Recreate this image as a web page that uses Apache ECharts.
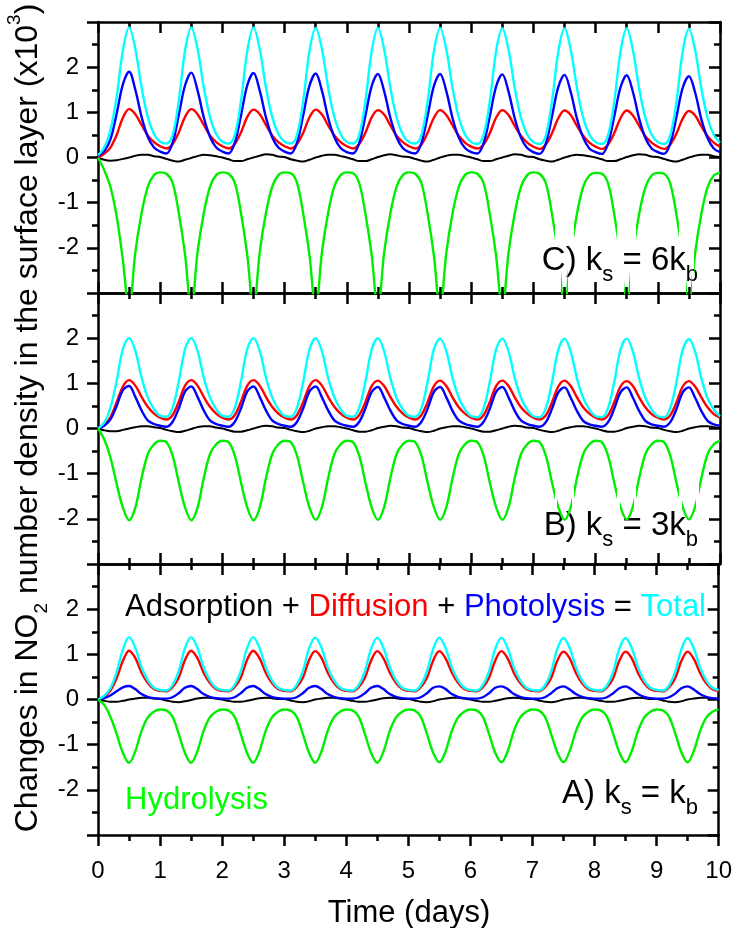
<!DOCTYPE html>
<html>
<head>
<meta charset="utf-8">
<script src="https://cdn.jsdelivr.net/npm/echarts@6.0.0/dist/echarts.min.js"></script>
<style>
  html, body { margin: 0; padding: 0; background: #fff; }
  #main { width: 735px; height: 928px; }
</style>
</head>
<body>
<div id="main"></div>
<script>
// time axis, days
var time = [
  0, 0.1, 0.2, 0.3, 0.4, 0.5, 0.6, 0.7, 0.8, 0.9,
  1, 1.1, 1.2, 1.3, 1.4, 1.5, 1.6, 1.7, 1.8, 1.9,
  2, 2.1, 2.2, 2.3, 2.4, 2.5, 2.6, 2.7, 2.8, 2.9,
  3, 3.1, 3.2, 3.3, 3.4, 3.5, 3.6, 3.7, 3.8, 3.9,
  4, 4.1, 4.2, 4.3, 4.4, 4.5, 4.6, 4.7, 4.8, 4.9,
  5, 5.1, 5.2, 5.3, 5.4, 5.5, 5.6, 5.7, 5.8, 5.9,
  6, 6.1, 6.2, 6.3, 6.4, 6.5, 6.6, 6.7, 6.8, 6.9,
  7, 7.1, 7.2, 7.3, 7.4, 7.5, 7.6, 7.7, 7.8, 7.9,
  8, 8.1, 8.2, 8.3, 8.4, 8.5, 8.6, 8.7, 8.8, 8.9,
  9, 9.1, 9.2, 9.3, 9.4, 9.5, 9.6, 9.7, 9.8, 9.9,
  10
];

// ---- C) ks = 6kb
var adsorptionC = [
  0, -0.05, -0.07, -0.06, -0.03, 0, 0.04, 0.06, 0.06, 0.03,
  0.01, -0.03, -0.07, -0.09, -0.05, -0.01, 0.03, 0.06, 0.05, 0.03,
  0, -0.04, -0.08, -0.08, -0.04, 0, 0.04, 0.07, 0.06, 0.02,
  0.01, -0.04, -0.07, -0.09, -0.05, 0, 0.04, 0.06, 0.06, 0.03,
  0, -0.04, -0.08, -0.08, -0.04, 0.01, 0.05, 0.07, 0.05, 0.02,
  0.01, -0.03, -0.07, -0.09, -0.05, 0, 0.04, 0.06, 0.06, 0.03,
  0, -0.04, -0.08, -0.08, -0.04, 0, 0.04, 0.07, 0.06, 0.02,
  0.01, -0.04, -0.07, -0.09, -0.05, 0, 0.04, 0.06, 0.05, 0.03,
  0, -0.04, -0.08, -0.08, -0.04, 0.01, 0.05, 0.07, 0.06, 0.02,
  0.01, -0.03, -0.07, -0.09, -0.05, 0, 0.04, 0.06, 0.06, 0.03,
  0.01
];
var diffusionC = [
  0, 0.08, 0.22, 0.5, 0.88, 1.07, 0.96, 0.72, 0.49, 0.34,
  0.25, 0.2, 0.3, 0.56, 0.9, 1.07, 0.96, 0.72, 0.49, 0.34,
  0.25, 0.2, 0.3, 0.56, 0.9, 1.06, 0.96, 0.72, 0.49, 0.34,
  0.25, 0.2, 0.3, 0.55, 0.89, 1.06, 0.95, 0.71, 0.49, 0.34,
  0.25, 0.2, 0.3, 0.55, 0.89, 1.05, 0.95, 0.71, 0.48, 0.34,
  0.25, 0.2, 0.29, 0.55, 0.88, 1.05, 0.94, 0.71, 0.48, 0.33,
  0.24, 0.2, 0.29, 0.54, 0.88, 1.05, 0.94, 0.7, 0.48, 0.33,
  0.24, 0.19, 0.29, 0.54, 0.87, 1.04, 0.94, 0.7, 0.48, 0.33,
  0.24, 0.19, 0.29, 0.54, 0.87, 1.04, 0.93, 0.7, 0.47, 0.33,
  0.24, 0.19, 0.29, 0.53, 0.86, 1.03, 0.93, 0.69, 0.47, 0.33,
  0.24
];
var photolysisC = [
  0.04, 0.14, 0.4, 0.97, 1.62, 1.9, 1.5, 0.9, 0.46, 0.22,
  0.13, 0.09, 0.33, 0.95, 1.6, 1.88, 1.49, 0.89, 0.46, 0.22,
  0.13, 0.09, 0.33, 0.94, 1.6, 1.87, 1.48, 0.89, 0.45, 0.22,
  0.13, 0.09, 0.33, 0.94, 1.59, 1.86, 1.48, 0.88, 0.45, 0.21,
  0.12, 0.09, 0.32, 0.93, 1.58, 1.85, 1.47, 0.88, 0.45, 0.21,
  0.12, 0.09, 0.32, 0.93, 1.58, 1.85, 1.47, 0.87, 0.44, 0.21,
  0.12, 0.09, 0.32, 0.92, 1.57, 1.84, 1.46, 0.87, 0.44, 0.21,
  0.12, 0.08, 0.31, 0.92, 1.56, 1.83, 1.45, 0.86, 0.44, 0.2,
  0.12, 0.08, 0.31, 0.91, 1.55, 1.82, 1.45, 0.86, 0.43, 0.2,
  0.12, 0.08, 0.31, 0.9, 1.54, 1.8, 1.44, 0.85, 0.43, 0.2,
  0.12
];
var totalC = [
  0.05, 0.22, 0.6, 1.34, 2.37, 2.88, 2.41, 1.56, 0.9, 0.52,
  0.35, 0.31, 0.5, 1.27, 2.37, 2.88, 2.41, 1.56, 0.9, 0.52,
  0.35, 0.31, 0.5, 1.26, 2.36, 2.88, 2.4, 1.55, 0.9, 0.52,
  0.35, 0.31, 0.5, 1.26, 2.36, 2.87, 2.4, 1.55, 0.89, 0.52,
  0.34, 0.31, 0.5, 1.26, 2.35, 2.87, 2.4, 1.55, 0.89, 0.51,
  0.34, 0.31, 0.5, 1.25, 2.35, 2.87, 2.39, 1.54, 0.89, 0.51,
  0.34, 0.3, 0.5, 1.25, 2.35, 2.86, 2.39, 1.54, 0.88, 0.51,
  0.34, 0.3, 0.49, 1.25, 2.34, 2.86, 2.39, 1.54, 0.88, 0.51,
  0.34, 0.3, 0.49, 1.24, 2.34, 2.86, 2.38, 1.53, 0.88, 0.51,
  0.34, 0.3, 0.49, 1.24, 2.34, 2.85, 2.38, 1.53, 0.88, 0.5,
  0.33
];
var hydrolysisC = [
  0, -0.28, -0.65, -1.3, -2.27, -3.4, -2.1, -1.24, -0.65, -0.39,
  -0.33, -0.36, -0.56, -1.24, -2.15, -3.4, -2.1, -1.24, -0.65, -0.39,
  -0.33, -0.36, -0.56, -1.24, -2.16, -3.4, -2.1, -1.23, -0.65, -0.39,
  -0.33, -0.35, -0.56, -1.25, -2.16, -3.4, -2.1, -1.23, -0.64, -0.39,
  -0.33, -0.35, -0.57, -1.25, -2.16, -3.4, -2.11, -1.24, -0.65, -0.39,
  -0.33, -0.36, -0.57, -1.25, -2.17, -3.4, -2.11, -1.24, -0.65, -0.39,
  -0.33, -0.36, -0.57, -1.26, -2.17, -3.4, -2.11, -1.24, -0.65, -0.39,
  -0.33, -0.36, -0.57, -1.26, -2.17, -3.4, -2.12, -1.25, -0.65, -0.4,
  -0.34, -0.36, -0.57, -1.26, -2.18, -3.4, -2.12, -1.25, -0.66, -0.4,
  -0.34, -0.36, -0.58, -1.27, -2.18, -3.4, -2.12, -1.25, -0.66, -0.4,
  -0.34
];
// breaks in the hydrolysis trace (days)
var hydrolysisGapsC = [[7.345, 7.45], [7.55, 7.655], [8.345, 8.45], [8.55, 8.655], [9.345, 9.45], [9.55, 9.59]];

// ---- B) ks = 3kb
var adsorptionB = [
  0, -0.04, -0.06, -0.06, -0.03, 0, 0.03, 0.05, 0.05, 0.03,
  0.01, -0.03, -0.06, -0.08, -0.05, -0.01, 0.03, 0.05, 0.05, 0.02,
  0, -0.04, -0.07, -0.07, -0.04, 0, 0.04, 0.06, 0.05, 0.02,
  0.01, -0.03, -0.06, -0.08, -0.05, 0, 0.03, 0.05, 0.05, 0.03,
  0, -0.04, -0.07, -0.07, -0.04, 0.01, 0.04, 0.06, 0.05, 0.02,
  0.01, -0.03, -0.06, -0.08, -0.05, 0, 0.03, 0.05, 0.05, 0.03,
  0, -0.04, -0.07, -0.07, -0.04, 0, 0.04, 0.06, 0.05, 0.02,
  0.01, -0.03, -0.06, -0.08, -0.05, 0, 0.03, 0.05, 0.05, 0.03,
  0, -0.04, -0.07, -0.07, -0.04, 0.01, 0.04, 0.06, 0.05, 0.02,
  0.01, -0.03, -0.06, -0.08, -0.05, 0, 0.03, 0.05, 0.05, 0.03,
  0.01
];
var diffusionB = [
  0, 0.08, 0.25, 0.58, 0.93, 1.07, 0.95, 0.7, 0.48, 0.33,
  0.24, 0.2, 0.3, 0.6, 0.95, 1.07, 0.95, 0.7, 0.48, 0.33,
  0.24, 0.2, 0.3, 0.6, 0.95, 1.07, 0.95, 0.7, 0.48, 0.33,
  0.24, 0.2, 0.3, 0.59, 0.94, 1.07, 0.95, 0.7, 0.48, 0.33,
  0.24, 0.2, 0.3, 0.59, 0.94, 1.06, 0.94, 0.7, 0.48, 0.33,
  0.24, 0.2, 0.3, 0.59, 0.94, 1.06, 0.94, 0.69, 0.47, 0.33,
  0.24, 0.2, 0.3, 0.59, 0.94, 1.06, 0.94, 0.69, 0.47, 0.33,
  0.24, 0.2, 0.29, 0.58, 0.93, 1.06, 0.94, 0.69, 0.47, 0.33,
  0.24, 0.2, 0.29, 0.58, 0.93, 1.05, 0.94, 0.69, 0.47, 0.32,
  0.24, 0.2, 0.29, 0.58, 0.93, 1.05, 0.93, 0.69, 0.47, 0.32,
  0.24
];
var photolysisB = [
  0, 0.06, 0.2, 0.5, 0.85, 0.94, 0.7, 0.4, 0.18, 0.1,
  0.06, 0.04, 0.15, 0.45, 0.82, 0.93, 0.7, 0.4, 0.18, 0.1,
  0.06, 0.04, 0.15, 0.45, 0.82, 0.93, 0.7, 0.4, 0.18, 0.1,
  0.06, 0.04, 0.15, 0.45, 0.82, 0.93, 0.69, 0.4, 0.18, 0.1,
  0.06, 0.04, 0.15, 0.45, 0.81, 0.92, 0.69, 0.4, 0.18, 0.1,
  0.06, 0.04, 0.15, 0.44, 0.81, 0.92, 0.69, 0.39, 0.18, 0.1,
  0.06, 0.04, 0.15, 0.44, 0.81, 0.92, 0.69, 0.39, 0.18, 0.1,
  0.06, 0.04, 0.14, 0.44, 0.8, 0.91, 0.68, 0.39, 0.17, 0.09,
  0.06, 0.04, 0.14, 0.44, 0.8, 0.91, 0.68, 0.39, 0.17, 0.09,
  0.06, 0.04, 0.14, 0.43, 0.8, 0.91, 0.68, 0.39, 0.17, 0.09,
  0.06
];
var totalB = [
  0, 0.13, 0.46, 1.05, 1.76, 2.0, 1.72, 1.13, 0.69, 0.43,
  0.28, 0.26, 0.46, 1.05, 1.76, 2.0, 1.72, 1.13, 0.69, 0.43,
  0.28, 0.26, 0.46, 1.05, 1.76, 2.0, 1.72, 1.13, 0.69, 0.43,
  0.28, 0.26, 0.46, 1.04, 1.75, 2.0, 1.71, 1.12, 0.69, 0.43,
  0.28, 0.26, 0.46, 1.04, 1.75, 2.0, 1.71, 1.12, 0.68, 0.42,
  0.28, 0.26, 0.45, 1.04, 1.75, 1.99, 1.71, 1.12, 0.68, 0.42,
  0.27, 0.25, 0.45, 1.04, 1.75, 1.99, 1.71, 1.12, 0.68, 0.42,
  0.27, 0.25, 0.45, 1.03, 1.74, 1.99, 1.7, 1.11, 0.68, 0.42,
  0.27, 0.25, 0.45, 1.03, 1.74, 1.99, 1.7, 1.11, 0.68, 0.42,
  0.27, 0.25, 0.45, 1.03, 1.74, 1.98, 1.7, 1.11, 0.67, 0.42,
  0.27
];
var hydrolysisB = [
  0, -0.24, -0.64, -1.23, -1.75, -2.03, -1.75, -1.1, -0.57, -0.35,
  -0.27, -0.3, -0.6, -1.2, -1.75, -2.03, -1.75, -1.1, -0.57, -0.35,
  -0.27, -0.3, -0.6, -1.2, -1.75, -2.03, -1.75, -1.1, -0.57, -0.35,
  -0.27, -0.3, -0.6, -1.2, -1.75, -2.02, -1.74, -1.1, -0.57, -0.35,
  -0.27, -0.3, -0.6, -1.2, -1.75, -2.02, -1.74, -1.1, -0.57, -0.35,
  -0.27, -0.3, -0.6, -1.2, -1.74, -2.02, -1.74, -1.1, -0.57, -0.35,
  -0.27, -0.3, -0.6, -1.2, -1.74, -2.02, -1.74, -1.1, -0.57, -0.35,
  -0.27, -0.3, -0.6, -1.2, -1.74, -2.02, -1.74, -1.1, -0.57, -0.35,
  -0.27, -0.3, -0.6, -1.2, -1.74, -2.01, -1.73, -1.1, -0.57, -0.35,
  -0.27, -0.3, -0.6, -1.2, -1.74, -2.01, -1.73, -1.1, -0.57, -0.35,
  -0.27
];
var hydrolysisGapsB = [[7.345, 7.385], [7.615, 7.655], [8.345, 8.385], [8.615, 8.655], [9.345, 9.385], [9.615, 9.655]];

// ---- A) ks = kb
var adsorptionA = [
  0, -0.03, -0.05, -0.05, -0.03, 0, 0.02, 0.04, 0.04, 0.02,
  0.01, -0.02, -0.05, -0.06, -0.04, -0.01, 0.02, 0.04, 0.04, 0.02,
  0, -0.03, -0.05, -0.05, -0.03, 0, 0.03, 0.04, 0.03, 0.01,
  0.01, -0.02, -0.05, -0.06, -0.04, 0, 0.02, 0.04, 0.04, 0.02,
  0, -0.03, -0.05, -0.05, -0.03, 0, 0.03, 0.04, 0.03, 0.01,
  0.01, -0.02, -0.05, -0.06, -0.04, 0, 0.02, 0.04, 0.04, 0.02,
  0, -0.03, -0.05, -0.05, -0.03, 0, 0.03, 0.04, 0.03, 0.01,
  0.01, -0.02, -0.05, -0.06, -0.04, 0, 0.02, 0.04, 0.04, 0.02,
  0, -0.03, -0.05, -0.05, -0.03, 0, 0.03, 0.04, 0.03, 0.01,
  0.01, -0.02, -0.05, -0.06, -0.04, 0, 0.02, 0.04, 0.04, 0.02,
  0.01
];
var diffusionA = [
  0, 0.06, 0.2, 0.47, 0.85, 1.08, 0.92, 0.6, 0.37, 0.23,
  0.19, 0.18, 0.27, 0.48, 0.87, 1.08, 0.92, 0.6, 0.37, 0.23,
  0.19, 0.18, 0.27, 0.48, 0.87, 1.08, 0.92, 0.6, 0.37, 0.23,
  0.19, 0.18, 0.27, 0.48, 0.87, 1.07, 0.92, 0.6, 0.37, 0.23,
  0.19, 0.18, 0.27, 0.48, 0.86, 1.07, 0.91, 0.6, 0.37, 0.23,
  0.19, 0.18, 0.27, 0.48, 0.86, 1.07, 0.91, 0.6, 0.37, 0.23,
  0.19, 0.18, 0.27, 0.48, 0.86, 1.07, 0.91, 0.59, 0.37, 0.23,
  0.19, 0.18, 0.27, 0.47, 0.86, 1.06, 0.91, 0.59, 0.36, 0.23,
  0.19, 0.18, 0.27, 0.47, 0.86, 1.06, 0.91, 0.59, 0.36, 0.23,
  0.19, 0.18, 0.27, 0.47, 0.85, 1.06, 0.9, 0.59, 0.36, 0.23,
  0.19
];
var photolysisA = [
  0, 0.03, 0.09, 0.18, 0.27, 0.3, 0.23, 0.12, 0.06, 0.03,
  0.02, 0.02, 0.05, 0.14, 0.26, 0.3, 0.23, 0.12, 0.06, 0.03,
  0.02, 0.02, 0.05, 0.14, 0.26, 0.3, 0.23, 0.12, 0.06, 0.03,
  0.02, 0.02, 0.05, 0.14, 0.26, 0.3, 0.23, 0.12, 0.06, 0.03,
  0.02, 0.02, 0.05, 0.14, 0.26, 0.3, 0.23, 0.12, 0.06, 0.03,
  0.02, 0.02, 0.05, 0.14, 0.26, 0.29, 0.23, 0.12, 0.06, 0.03,
  0.02, 0.02, 0.05, 0.14, 0.26, 0.29, 0.23, 0.12, 0.06, 0.03,
  0.02, 0.02, 0.05, 0.14, 0.25, 0.29, 0.22, 0.12, 0.06, 0.03,
  0.02, 0.02, 0.05, 0.14, 0.25, 0.29, 0.22, 0.12, 0.06, 0.03,
  0.02, 0.02, 0.05, 0.13, 0.25, 0.29, 0.22, 0.12, 0.06, 0.03,
  0.02
];
var totalA = [
  0, 0.08, 0.25, 0.6, 1.1, 1.38, 1.15, 0.72, 0.43, 0.26,
  0.21, 0.2, 0.32, 0.62, 1.13, 1.38, 1.15, 0.72, 0.43, 0.26,
  0.21, 0.2, 0.32, 0.62, 1.13, 1.38, 1.15, 0.72, 0.43, 0.26,
  0.21, 0.2, 0.32, 0.62, 1.13, 1.37, 1.15, 0.72, 0.43, 0.26,
  0.21, 0.2, 0.32, 0.62, 1.12, 1.37, 1.14, 0.72, 0.43, 0.26,
  0.21, 0.2, 0.32, 0.62, 1.12, 1.37, 1.14, 0.71, 0.43, 0.26,
  0.21, 0.2, 0.32, 0.62, 1.12, 1.37, 1.14, 0.71, 0.43, 0.26,
  0.21, 0.2, 0.31, 0.61, 1.12, 1.36, 1.14, 0.71, 0.42, 0.26,
  0.21, 0.2, 0.31, 0.61, 1.12, 1.36, 1.14, 0.71, 0.42, 0.26,
  0.21, 0.2, 0.31, 0.61, 1.11, 1.36, 1.13, 0.71, 0.42, 0.26,
  0.21
];
var hydrolysisA = [
  0, -0.12, -0.38, -0.76, -1.18, -1.4, -1.15, -0.7, -0.4, -0.27,
  -0.22, -0.24, -0.38, -0.76, -1.18, -1.4, -1.15, -0.7, -0.4, -0.27,
  -0.22, -0.24, -0.38, -0.76, -1.18, -1.4, -1.15, -0.7, -0.4, -0.27,
  -0.22, -0.24, -0.38, -0.76, -1.18, -1.4, -1.15, -0.7, -0.4, -0.27,
  -0.22, -0.24, -0.38, -0.76, -1.18, -1.4, -1.15, -0.7, -0.4, -0.27,
  -0.22, -0.24, -0.38, -0.76, -1.18, -1.39, -1.15, -0.7, -0.4, -0.27,
  -0.22, -0.24, -0.38, -0.76, -1.18, -1.39, -1.15, -0.7, -0.4, -0.27,
  -0.22, -0.24, -0.38, -0.76, -1.17, -1.39, -1.14, -0.7, -0.4, -0.27,
  -0.22, -0.24, -0.38, -0.76, -1.17, -1.39, -1.14, -0.7, -0.4, -0.27,
  -0.22, -0.24, -0.38, -0.75, -1.17, -1.39, -1.14, -0.7, -0.4, -0.27,
  -0.22
];

var panelLabels = ['C) k{s|s} = 6k{s|b}', 'B) k{s|s} = 3k{s|b}', 'A) k{s|s} = k{s|b}'];

var FONT = '"Liberation Sans", Arial, sans-serif';
var BLACK = '#000000', RED = '#FF0000', BLUE = '#0000FF', CYAN = '#00FFFF', GREEN = '#00EE00';

var chart = echarts.init(document.getElementById('main'), null, { renderer: 'canvas' });

var gridTops = [22, 293, 564];
var grids = [], xAxes = [], yAxes = [], series = [];

function axisX(g, pos, inside, labels) {
    return {
        gridIndex: g, type: 'value', position: pos, min: 0, max: 10, interval: 1,
        axisLine: { onZero: false, lineStyle: { color: '#000', width: 2.5 } },
        axisTick: { inside: inside, length: 11, lineStyle: { color: '#000', width: 2.5 } },
        minorTick: { show: true, splitNumber: 2, length: 6, lineStyle: { color: '#000', width: 2.5 } },
        splitLine: { show: false },
        axisLabel: { show: labels, color: '#000', fontSize: 24, fontFamily: FONT, margin: 24 }
    };
}

function axisY(g, pos, inside, labels) {
    return {
        gridIndex: g, type: 'value', position: pos, min: -3, max: 3, interval: 1,
        axisLine: { onZero: false, lineStyle: { color: '#000', width: 2.5 } },
        axisTick: { inside: inside, length: 11, lineStyle: { color: '#000', width: 2.5 } },
        minorTick: { show: true, splitNumber: 2, length: 6, lineStyle: { color: '#000', width: 2.5 } },
        splitLine: { show: false },
        axisLabel: { show: labels, showMinLabel: false, showMaxLabel: false, color: '#000', fontSize: 24, fontFamily: FONT, margin: 19 }
    };
}

function line(g, values, color, width, byVisualMap) {
    var s = {
        type: 'line', xAxisIndex: 2 * g, yAxisIndex: 2 * g,
        data: time.map(function (t, i) { return [t, values[i]]; }),
        showSymbol: false, smooth: 0.35, silent: true, clip: true,
        lineStyle: { width: width },
        itemStyle: { color: color }
    };
    // the visualMap gradient only shows when lineStyle has no colour of its own
    if (!byVisualMap) s.lineStyle.color = color;
    return s;
}

var panels = [
    [adsorptionC, diffusionC, photolysisC, totalC, hydrolysisC],
    [adsorptionB, diffusionB, photolysisB, totalB, hydrolysisB],
    [adsorptionA, diffusionA, photolysisA, totalA, hydrolysisA]
];

gridTops.forEach(function (top, g) {
    var last = g === 2;
    grids.push({ left: 98, right: 15, top: top, height: 271 });
    xAxes.push(axisX(g, 'bottom', !last, last));
    xAxes.push(axisX(g, 'top', true, false));
    yAxes.push(axisY(g, 'left', false, true));
    yAxes.push(axisY(g, 'right', true, false));

    var p = panels[g];
    series.push(line(g, p[0], BLACK, 2));
    series.push(line(g, p[1], RED, 2.4));
    series.push(line(g, p[2], BLUE, 2.4));
    series.push(line(g, p[3], CYAN, 2.4));
    series.push(line(g, p[4], GREEN, 2.4, g < 2));
});

// visible stretches of a hydrolysis trace, between the breaks
function keepPieces(gaps) {
    var pieces = [], start = null;
    gaps.forEach(function (gp) {
        pieces.push(start === null ? { lt: gp[0], color: GREEN } : { gt: start, lt: gp[0], color: GREEN });
        start = gp[1];
    });
    pieces.push({ gt: start, color: GREEN });
    return pieces;
}

var labelTextY = [261, 526, 794];
var graphics = [];
labelTextY.forEach(function (y, g) {
    graphics.push({
        type: 'text', x: 698, y: y, silent: true,
        style: {
            text: panelLabels[g], fill: '#000', fontSize: 33, fontFamily: FONT, lineHeight: 50,
            align: 'right', textAlign: 'right', verticalAlign: 'middle', textVerticalAlign: 'middle',
            rich: { s: { fontSize: 22, lineHeight: 22, verticalAlign: 'bottom', fontFamily: FONT, fill: '#000' } }
        }
    });
});

// y axis title
graphics.push({
    type: 'text', x: 28, y: 418, rotation: Math.PI / 2, silent: true,
    style: {
        text: 'Changes in NO{sub|2} number density in the surface layer (x10{sup|3})',
        fill: '#000', fontSize: 32, fontFamily: FONT, lineHeight: 46,
        align: 'center', textAlign: 'center', verticalAlign: 'middle', textVerticalAlign: 'middle',
        rich: {
            sub: { fontSize: 19, lineHeight: 19, verticalAlign: 'bottom', fontFamily: FONT, fill: '#000' },
            sup: { fontSize: 19, lineHeight: 27, verticalAlign: 'top', fontFamily: FONT, fill: '#000' }
        }
    }
});

// x axis title
graphics.push({
    type: 'text', x: 409, y: 913, silent: true,
    style: { text: 'Time (days)', fill: '#000', fontSize: 31, fontFamily: FONT,
        align: 'center', textAlign: 'center', verticalAlign: 'middle', textVerticalAlign: 'middle' }
});

// equation legend in panel A
graphics.push({
    type: 'text', x: 125, y: 607, silent: true,
    style: {
        text: '{k|Adsorption + }{r|Diffusion}{k| + }{b|Photolysis}{k| = }{c|Total}',
        fontSize: 31, fontFamily: FONT, align: 'left', textAlign: 'left',
        verticalAlign: 'middle', textVerticalAlign: 'middle',
        rich: {
            k: { fill: BLACK, fontSize: 31, fontFamily: FONT },
            r: { fill: RED, fontSize: 31, fontFamily: FONT },
            b: { fill: BLUE, fontSize: 31, fontFamily: FONT },
            c: { fill: CYAN, fontSize: 31, fontFamily: FONT }
        }
    }
});

graphics.push({
    type: 'text', x: 125, y: 800, silent: true,
    style: { text: 'Hydrolysis', fill: '#00FF00', fontSize: 31, fontFamily: FONT,
        align: 'left', textAlign: 'left', verticalAlign: 'middle', textVerticalAlign: 'middle' }
});

var option = {
    animation: false,
    backgroundColor: '#fff',
    grid: grids,
    xAxis: xAxes,
    yAxis: yAxes,
    visualMap: [
        { type: 'piecewise', show: false, seriesIndex: 4, dimension: 0, pieces: keepPieces(hydrolysisGapsC), outOfRange: { color: 'rgba(0,0,0,0)' } },
        { type: 'piecewise', show: false, seriesIndex: 9, dimension: 0, pieces: keepPieces(hydrolysisGapsB), outOfRange: { color: 'rgba(0,0,0,0)' } }
    ],
    series: series,
    graphic: graphics
};

chart.setOption(option, true);
</script>
</body>
</html>
